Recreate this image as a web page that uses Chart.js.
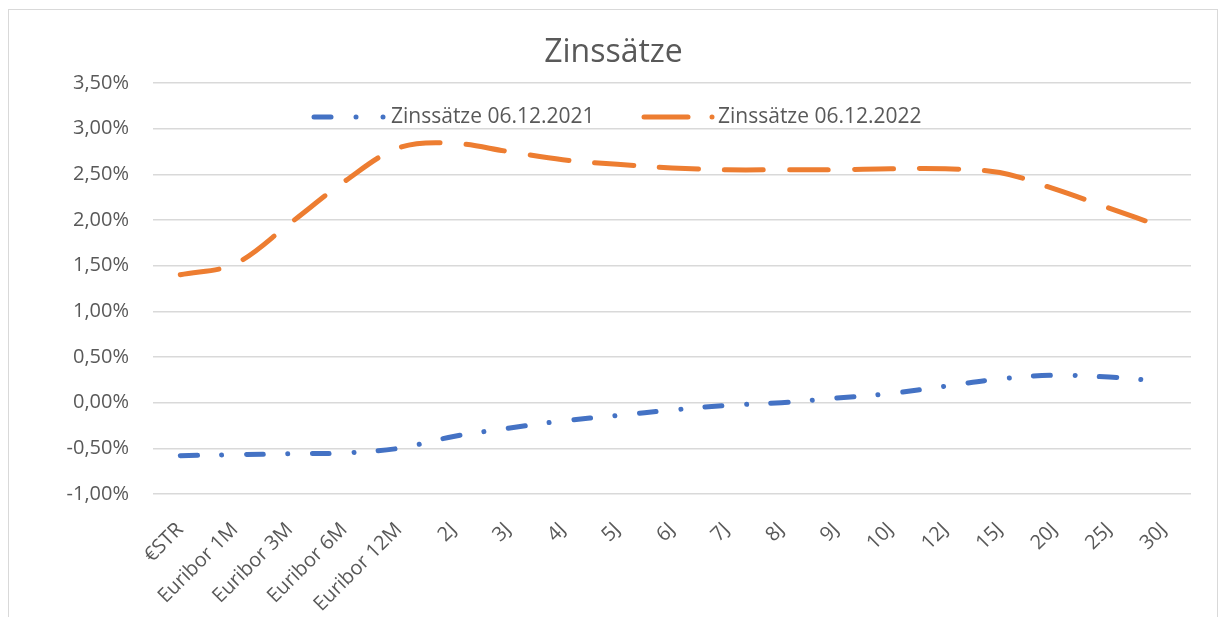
<!DOCTYPE html>
<html><head><meta charset="utf-8">
<script src="https://cdn.jsdelivr.net/npm/chart.js@4.4.0/dist/chart.umd.min.js"></script>
<style>html,body{margin:0;padding:0;background:#fff;overflow:hidden}#wrap{position:absolute;left:0;top:0;width:1221px;height:617px}</style>
</head><body><div id="wrap"><canvas id="c"></canvas></div>
<script>
const categories = ['€STR','Euribor 1M','Euribor 3M','Euribor 6M','Euribor 12M','2J','3J','4J','5J','6J','7J','8J','9J','10J','12J','15J','20J','25J','30J'];
const rates2021 = [-0.58,-0.57,-0.56,-0.55,-0.50,-0.37,-0.28,-0.20,-0.14,-0.08,-0.03,0.00,0.05,0.10,0.18,0.26,0.30,0.28,0.23];
const rates2022 = [1.40,1.52,1.96,2.42,2.79,2.84,2.75,2.66,2.61,2.57,2.55,2.55,2.55,2.56,2.56,2.52,2.34,2.13,1.92];
const seriesNames = ['Zinssätze 06.12.2021','Zinssätze 06.12.2022'];
const chartTitle = 'Zinssätze';
const yMin = -1, yMax = 3.5, yStep = 0.5;

const BLUE = '#4472C4', ORANGE = '#ED7D31', TXT = '#595959', GRID = '#d9d9d9';
const FONT = '"Open Sans", "Noto Sans", sans-serif';

const borderPlugin = {
  id: 'borderPlugin',
  beforeDraw(chart) {
    const ctx = chart.ctx;
    ctx.save();
    ctx.fillStyle = '#fff';
    ctx.fillRect(0, 0, chart.width, chart.height);
    ctx.strokeStyle = GRID;
    ctx.lineWidth = 1;
    ctx.strokeRect(8.5, 9.5, 1209, 640);
    ctx.restore();
  }
};

const legendPlugin = {
  id: 'customLegend',
  afterDraw(chart) {
    const ctx = chart.ctx;
    const y = 117;
    ctx.save();
    ctx.lineCap = 'round';
    ctx.lineWidth = 5;
    // blue sample
    ctx.strokeStyle = BLUE;
    ctx.beginPath(); ctx.moveTo(314, y); ctx.lineTo(331, y); ctx.stroke();
    ctx.beginPath(); ctx.moveTo(356, y); ctx.lineTo(356.01, y); ctx.stroke();
    ctx.beginPath(); ctx.moveTo(383, y); ctx.lineTo(383.01, y); ctx.stroke();
    // orange sample
    ctx.strokeStyle = ORANGE;
    ctx.beginPath(); ctx.moveTo(644, y); ctx.lineTo(688, y); ctx.stroke();
    ctx.beginPath(); ctx.moveTo(712, y); ctx.lineTo(712.01, y); ctx.stroke();
    ctx.font = '21px ' + FONT;
    ctx.fillStyle = TXT;
    ctx.textBaseline = 'middle';
    ctx.textAlign = 'left';
    ctx.fillText(seriesNames[0], 391, y);
    ctx.fillText(seriesNames[1], 718, y);
    ctx.restore();
  }
};

new Chart(document.getElementById('c'), {
  type: 'line',
  data: {
    labels: categories,
    datasets: [
      { label: seriesNames[0], data: rates2021, borderColor: BLUE, backgroundColor: BLUE,
        borderWidth: 5, borderDash: [17, 24.5, 0.01, 24.5], borderCapStyle: 'round',
        pointRadius: 0, tension: 0.35, fill: false },
      { label: seriesNames[1], data: rates2022, borderColor: ORANGE, backgroundColor: ORANGE,
        borderWidth: 5, borderDash: [39, 26], borderCapStyle: 'round',
        pointRadius: 0, tension: 0.35, fill: false }
    ]
  },
  options: {
    responsive: true,
    maintainAspectRatio: false,
    animation: false,
    layout: { padding: { left: 36, right: 30, top: 0, bottom: 0 } },
    plugins: {
      legend: { display: false },
      tooltip: { enabled: false },
      title: {
        display: true, text: chartTitle, color: TXT,
        font: { family: FONT, size: 32, weight: 'normal', lineHeight: 1.2 },
        padding: { top: 34, bottom: 10.6 }
      }
    },
    scales: {
      x: {
        offset: true,
        grid: { display: false },
        border: { display: false },
        ticks: {
          autoSkip: false, maxRotation: 45, minRotation: 45, color: TXT, padding: 16,
          font: { family: FONT, size: 20 }
        },
        afterFit(s) { s.height = 123; }
      },
      y: {
        min: yMin, max: yMax,
        grid: { color: GRID, lineWidth: 1.5, drawTicks: false },
        border: { display: false },
        ticks: {
          stepSize: yStep, color: TXT, padding: 24,
          font: { family: FONT, size: 20 },
          callback: v => v.toFixed(2).replace('.', ',') + '%'
        },
        afterFit(s) { s.width = 117; }
      }
    }
  },
  plugins: [borderPlugin, legendPlugin]
});
</script>
</body></html>
